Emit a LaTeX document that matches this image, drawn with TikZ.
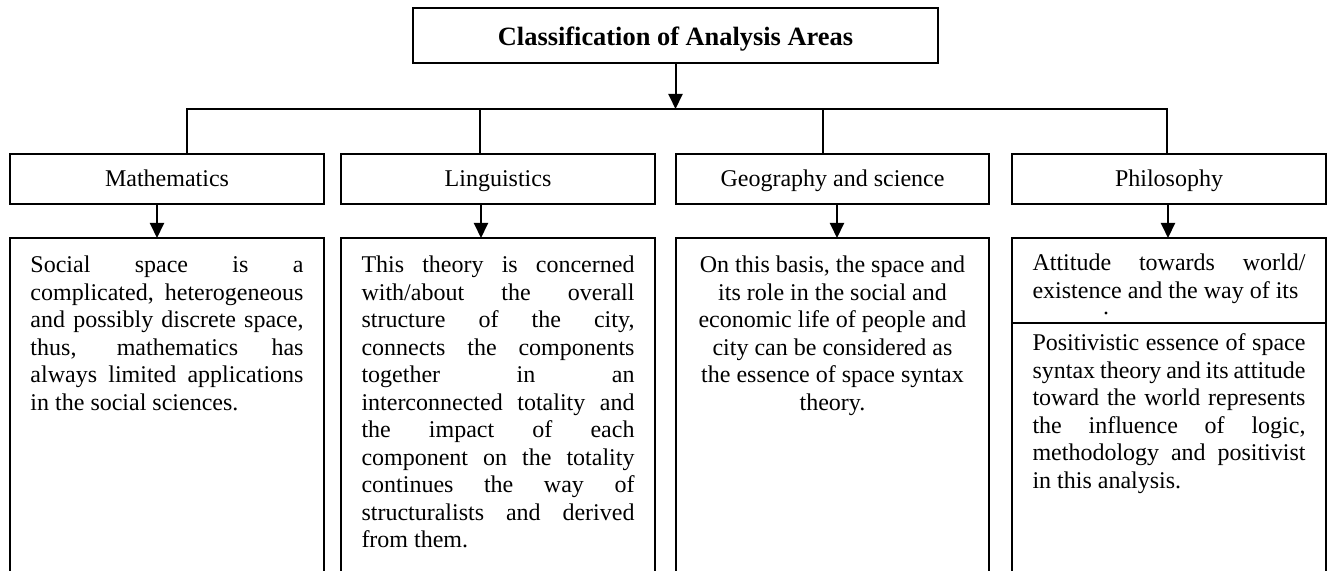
\documentclass[tikz,border=0pt]{standalone}
\usepackage{fontspec}
\setmainfont{Liberation Serif}
\usetikzlibrary{arrows.meta,calc}
\begin{document}
\begin{tikzpicture}[x=0.5pt,y=-0.5pt,
  box/.style={draw,line width=1pt,inner sep=0pt,outer sep=0pt},
  hdr/.style={box,minimum height=25pt,font=\fontsize{12}{13.75}\selectfont,text height=9pt,text depth=1pt},
  cbox/.style={box},
  ctext/.style={inner sep=0pt,text width=136.5pt,anchor=north,align=justify,font=\fontsize{12}{13.75}\selectfont},
  arr/.style={line width=1pt,-{Triangle[length=7.5pt,width=7pt]}},
  conn/.style={line width=1pt}]
\useasboundingbox (0,0) rectangle (1328,571);
\clip (0,0) rectangle (1328,571);

% title
\node[box,minimum width=262.5pt,minimum height=27.5pt,font=\fontsize{13.2}{15}\selectfont\bfseries,text height=10pt,text depth=0pt] (title) at (675.5,35.5) {Classification of Analysis Areas};

% headers
\node[hdr,minimum width=157pt] (mh) at (167,179) {Mathematics};
\node[hdr,minimum width=157pt] (lh) at (498,179) {Linguistics};
\node[hdr,minimum width=156.5pt] (gh) at (832.5,179) {Geography and science};
\node[hdr,minimum width=157pt] (ph) at (1169,179) {Philosophy};

% content boxes
\node[cbox,minimum width=157pt,minimum height=176pt] (mc) at (167,414) {};
\node[cbox,minimum width=157pt,minimum height=176pt] (lc) at (498,414) {};
\node[cbox,minimum width=156.5pt,minimum height=176pt] (gc) at (832.5,414) {};
\node[cbox,minimum width=157pt,minimum height=42.5pt] (pct) at (1169,280.5) {};
\node[cbox,minimum width=157pt,minimum height=133.5pt] (pcb) at (1169,456.5) {};

% texts
\node[ctext] (mt) at (167,255.6) {Social space is a\linebreak
complicated, heterogeneous\linebreak
and possibly discrete space,\linebreak
thus, mathematics has\linebreak
always limited applications\linebreak
in the social sciences.};

\node[ctext] (lt) at (498,255.6) {This theory is concerned\linebreak
with/about the overall\linebreak
structure of the city,\linebreak
connects the components\linebreak
together in an\linebreak
interconnected totality and\linebreak
the impact of each\linebreak
component on the totality\linebreak
continues the way of\linebreak
structuralists and derived\linebreak
from them.};

\node[ctext,text width=152pt,align=flush center] (gt) at (832.5,255.6) {On this basis, the space and\\
its role in the social and\\
economic life of people and\\
city can be considered as\\
the essence of space syntax\\
theory.};

\node[ctext] (pt1) at (1169,253.6) {Attitude towards world/\linebreak
existence and the way of its};
\fill (1106,313) circle (0.8pt);

\node[ctext] (pt2) at (1169,333.6) {Positivistic essence of space\linebreak
syntax theory and its attitude\linebreak
toward the world represents\linebreak
the influence of logic,\linebreak
methodology and positivist\linebreak
in this analysis.};

% connectors
\coordinate (hub) at (675.5,109);
\coordinate (b1) at (187,109);
\coordinate (b2) at (480,109);
\coordinate (b3) at (823,109);
\coordinate (b4) at (1167,109);
\draw[arr] (title.south) -- (hub);
\draw[conn] (mh.north -| b1) -- (b1) -- (b4) -- (ph.north -| b4);
\draw[conn] (b2) -- (lh.north -| b2);
\draw[conn] (b3) -- (gh.north -| b3);

\draw[arr] ([xshift=-5pt]mh.south) -- ([xshift=-5pt]mh.south |- mc.north);
\draw[arr] ([xshift=-8.5pt]lh.south) -- ([xshift=-8.5pt]lh.south |- lc.north);
\draw[arr] ([xshift=2.25pt]gh.south) -- ([xshift=2.25pt]gh.south |- gc.north);
\draw[arr] ([xshift=-0.5pt]ph.south) -- ([xshift=-0.5pt]ph.south |- pct.north);
\end{tikzpicture}
\end{document}
